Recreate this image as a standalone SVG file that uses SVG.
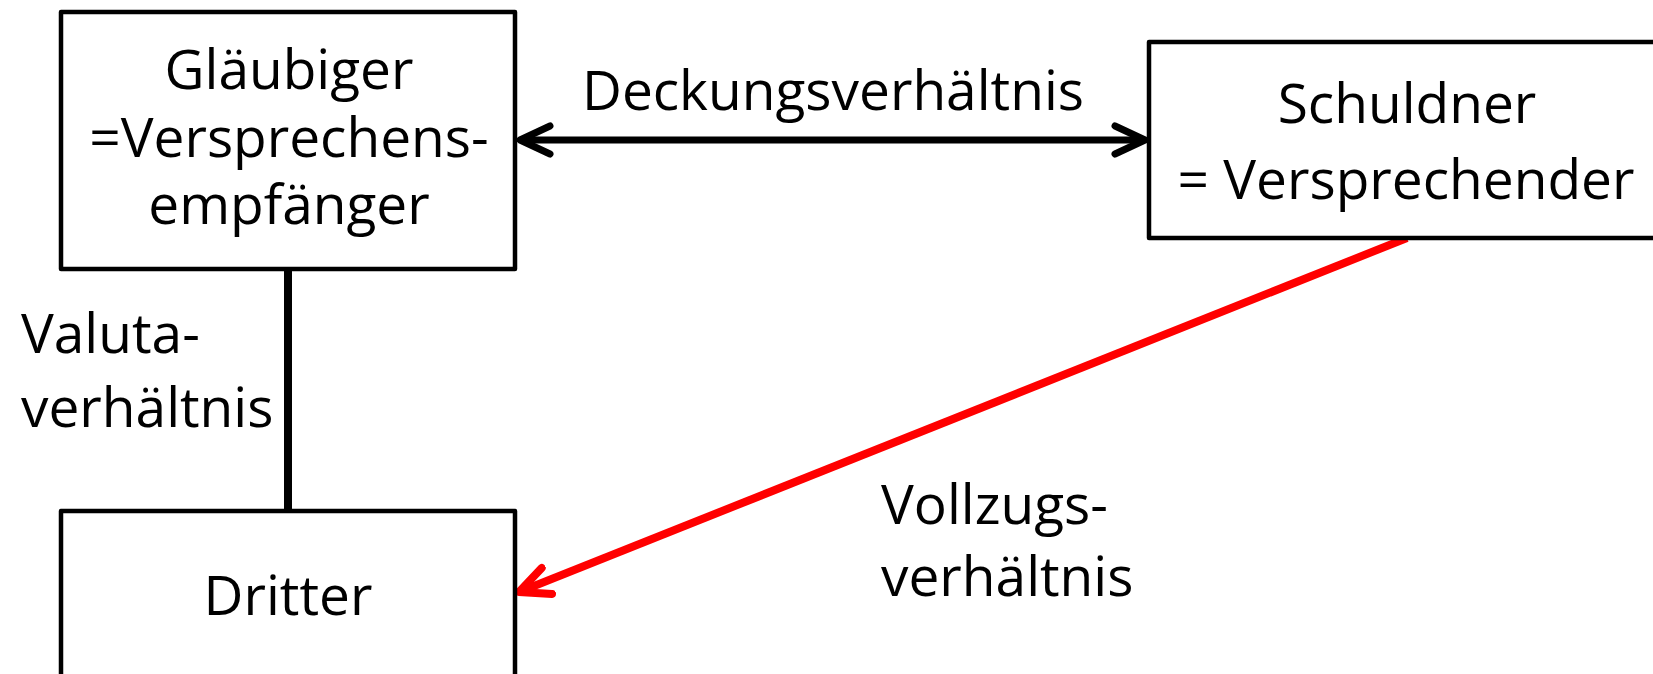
<svg xmlns="http://www.w3.org/2000/svg" width="1653" height="674" viewBox="0 0 1653 674">
<defs>
<style>
.box{fill:#fff;stroke:#000;stroke-width:4.5;stroke-linejoin:round}
.t{font-family:"Open Sans","Liberation Sans",sans-serif;font-size:55px;fill:#000}
.c{text-anchor:middle}
</style>
<marker id="ab" viewBox="0 0 40 40" refX="34" refY="20" markerWidth="40" markerHeight="40" markerUnits="userSpaceOnUse" orient="auto-start-reverse">
<path d="M4,6 L34,20 L4,34" fill="none" stroke="#000" stroke-width="7" stroke-linecap="round" stroke-linejoin="round"/>
</marker>
<marker id="ar" viewBox="0 0 40 40" refX="34" refY="20" markerWidth="40" markerHeight="40" markerUnits="userSpaceOnUse" orient="auto">
<path d="M4,6 L34,20 L4,34" fill="none" stroke="#f00" stroke-width="8" stroke-linecap="round" stroke-linejoin="round"/>
</marker>
</defs>
<rect width="1653" height="674" fill="#fff"/>
<g id="connectors">
<line x1="288" y1="269" x2="288" y2="511" stroke="#000" stroke-width="8"/>
<line x1="520" y1="140" x2="1145" y2="140" stroke="#000" stroke-width="7" marker-start="url(#ab)" marker-end="url(#ab)"/>
<line x1="1407" y1="238" x2="519" y2="592" stroke="#f00" stroke-width="8" marker-end="url(#ar)"/>
</g>
<g id="glaeubiger">
<rect class="box" x="61" y="12" width="454" height="257"/>
<text class="t c" x="289" y="89">Gläubiger</text>
<text class="t c" x="289" y="157">=Versprechens-</text>
<text class="t c" x="289" y="224">empfänger</text>
</g>
<g id="schuldner">
<rect class="box" x="1149" y="42" width="520" height="196"/>
<text class="t c" x="1407" y="123">Schuldner</text>
<text class="t c" x="1406" y="199">= Versprechender</text>
</g>
<g id="dritter">
<rect class="box" x="61" y="511" width="454" height="200"/>
<text class="t c" x="288" y="615">Dritter</text>
</g>
<g id="labels">
<text class="t c" x="833" y="110">Deckungsverhältnis</text>
<text class="t" x="21" y="353">Valuta-</text>
<text class="t" x="21" y="427">verhältnis</text>
<text class="t" x="881" y="524">Vollzugs-</text>
<text class="t" x="881" y="596">verhältnis</text>
</g>
</svg>
